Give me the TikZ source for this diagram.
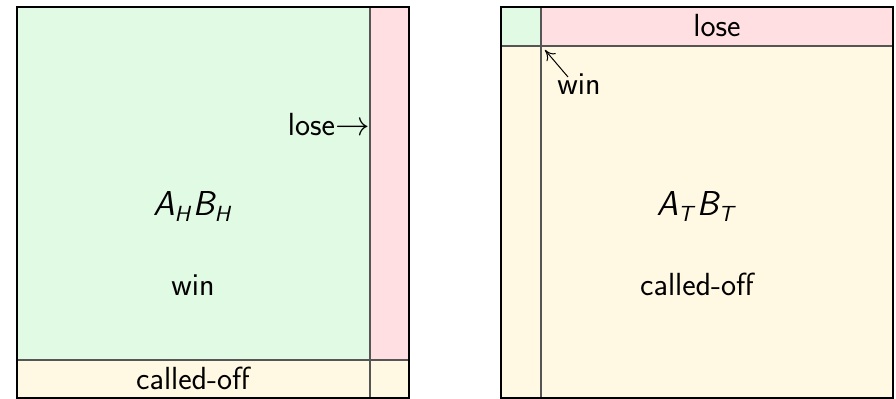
\documentclass[tikz,border=0pt]{standalone}
\usetikzlibrary{arrows.meta}
\DeclareMathAlphabet{\mathsfit}{OT1}{cmss}{m}{sl}
\definecolor{wingreen}{HTML}{E1FAE3}
\definecolor{losepink}{HTML}{FFDFE1}
\definecolor{offyellow}{HTML}{FFF9E3}
\definecolor{divgray}{HTML}{555555}
\begin{document}
\begin{tikzpicture}[x=0.5pt,y=0.5pt,
  outer/.style={draw=black,line width=1.1pt},
  divider/.style={draw=divgray,line width=0.6pt},
  lbl/.style={font=\sffamily\fontsize{16}{19}\selectfont,inner sep=0pt,anchor=base}]
\useasboundingbox (0,0) rectangle (896,399);
% left square
\fill[wingreen] (17,39) rectangle (370,392);
\fill[losepink] (370,39) rectangle (409,392);
\fill[offyellow] (17,1) rectangle (409,39);
\draw[divider] (370,1) -- (370,392);
\draw[divider] (17,39) -- (409,39);
\draw[outer] (17,1) rectangle (409,392);
\node[lbl] (ab) at (193,183) {$\mathsfit{A}_{\mathsfit{H}}\mathsfit{B}_{\mathsfit{H}}$};
\node[lbl] (winL) at (193,103) {win};
\node[lbl] (offL) at (193,9) {called-off};
\node[lbl,anchor=base east] (loseL) at (370,263) {lose$\rightarrow$};
% right square
\fill[offyellow] (501,1) rectangle (893,353);
\fill[wingreen] (501,353) rectangle (541,392);
\fill[losepink] (541,353) rectangle (893,392);
\draw[divider] (541,1) -- (541,392);
\draw[divider] (501,353) -- (893,353);
\draw[outer] (501,1) rectangle (893,392);
\coordinate (corner) at (545,349);
\node[lbl] (loseR) at (717,362) {lose};
\node[lbl] (abT) at (697,183) {$\mathsfit{A}_{\mathsfit{T}}\mathsfit{B}_{\mathsfit{T}}$};
\node[lbl] (offR) at (697,103) {called-off};
\node[lbl] (winR) at (579,304) {win};
\draw[line width=0.5pt,-{To[length=5pt,width=6pt]}] (568,322) -- (corner);
\end{tikzpicture}
\end{document}
